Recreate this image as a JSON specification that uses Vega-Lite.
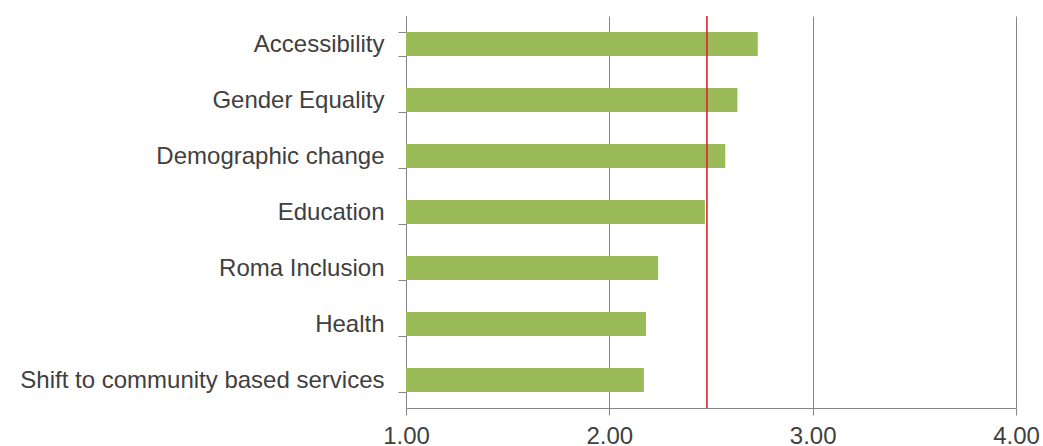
{
  "$schema": "https://vega.github.io/schema/vega-lite/v6.json",
  "width": 610,
  "height": 392,
  "autosize": "none",
  "padding": {"left": 406, "top": 16, "right": 27, "bottom": 38},
  "background": "white",
  "config": {
    "view": {"stroke": null},
    "axis": {"labelFont": "Liberation Sans", "labelFontSize": 24, "labelColor": "#404040", "domainColor": "#868686", "tickColor": "#868686", "gridColor": "#868686"}
  },
  "datasets": {
    "bars": [
      {"category": "Accessibility", "score": 2.73},
      {"category": "Gender Equality", "score": 2.63},
      {"category": "Demographic change", "score": 2.57},
      {"category": "Education", "score": 2.47},
      {"category": "Roma Inclusion", "score": 2.24},
      {"category": "Health", "score": 2.18},
      {"category": "Shift to community based services", "score": 2.17}
    ],
    "ref": [{"mean": 2.48}]
  },
  "layer": [
    {
      "data": {"name": "bars"},
      "mark": {"type": "bar", "color": "#9bbb59"},
      "encoding": {
        "y": {
          "field": "category", "type": "nominal", "sort": null, "title": null,
          "scale": {"paddingInner": 0.57, "paddingOuter": 0.285},
          "axis": {"tickBand": "extent", "tickSize": 8, "labelPadding": 14, "labelLimit": 600, "grid": false, "domainWidth": 1}
        },
        "x": {
          "field": "score", "type": "quantitative", "title": null,
          "scale": {"domain": [1, 4], "nice": false, "zero": false},
          "axis": {"values": [1, 2, 3, 4], "format": ".2f", "grid": true, "tickSize": 7, "labelPadding": 9, "domainWidth": 1, "labelFlush": false}
        },
        "x2": {"datum": 1}
      }
    },
    {
      "data": {"name": "ref"},
      "mark": {"type": "rule", "color": "#d9252a", "strokeWidth": 1.6},
      "encoding": {"x": {"field": "mean", "type": "quantitative"}}
    }
  ]
}
